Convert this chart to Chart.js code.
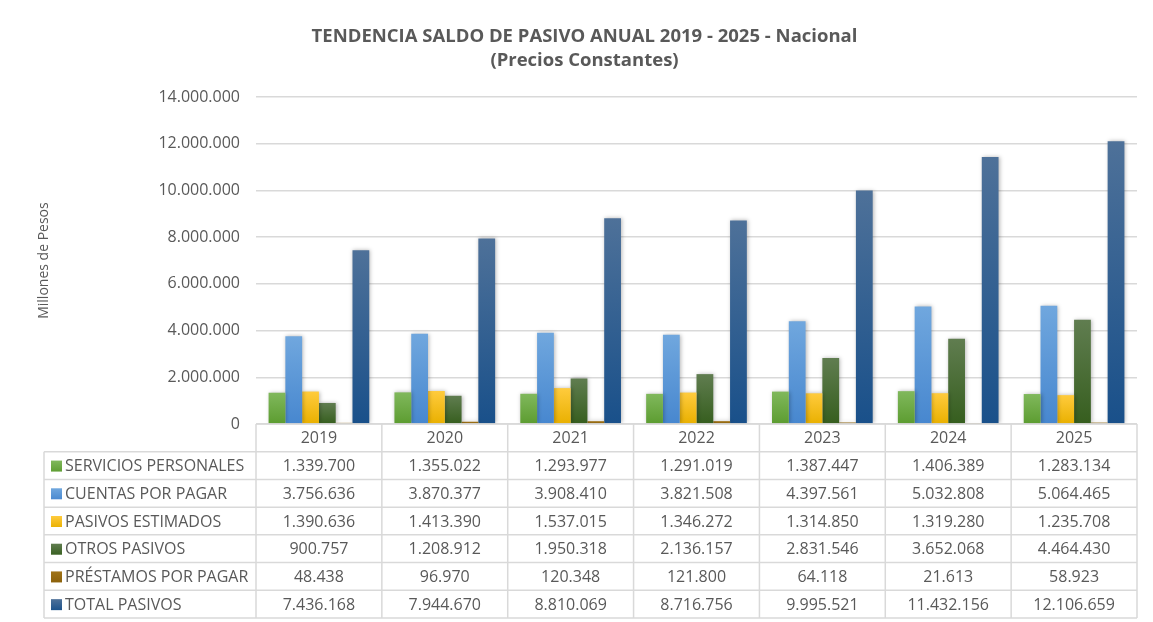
<!DOCTYPE html>
<html>
<head>
<meta charset="utf-8">
<script src="https://cdn.jsdelivr.net/npm/chart.js@4"></script>
<style>
  html, body { margin: 0; padding: 0; background: #fff; }
  #wrap { width: 1153px; height: 622px; position: relative; }
</style>
</head>
<body>
<div id="wrap"><canvas id="pasivoChart" width="1153" height="622"></canvas></div>
<script>
// Data (millones de pesos)
const years = ['2019', '2020', '2021', '2022', '2023', '2024', '2025'];
const serviciosPersonales = [1339700, 1355022, 1293977, 1291019, 1387447, 1406389, 1283134];
const cuentasPorPagar = [3756636, 3870377, 3908410, 3821508, 4397561, 5032808, 5064465];
const pasivosEstimados = [1390636, 1413390, 1537015, 1346272, 1314850, 1319280, 1235708];
const otrosPasivos = [900757, 1208912, 1950318, 2136157, 2831546, 3652068, 4464430];
const prestamosPorPagar = [48438, 96970, 120348, 121800, 64118, 21613, 58923];
const totalPasivos = [7436168, 7944670, 8810069, 8716756, 9995521, 11432156, 12106659];

const seriesLabels = ['SERVICIOS PERSONALES', 'CUENTAS POR PAGAR', 'PASIVOS ESTIMADOS',
  'OTROS PASIVOS', 'PRÉSTAMOS POR PAGAR', 'TOTAL PASIVOS'];
const seriesValues = [serviciosPersonales, cuentasPorPagar, pasivosEstimados,
  otrosPasivos, prestamosPorPagar, totalPasivos];

// top / bottom gradient colours, Excel-like
const seriesColors = [
  ['#80b85c', '#5c9c30'],
  ['#70a7de', '#4787cf'],
  ['#ffcb3d', '#e9b000'],
  ['#607d50', '#365e1e'],
  ['#a07318', '#8a600a'],
  ['#4e7199', '#19508a']
];

const TEXT = '#595959';
const GRID = '#d9d9d9';
const FONT = '"Open Sans", Roboto, sans-serif';

// 1.339.700 style
function fmt(n) {
  return String(Math.round(n)).replace(/\B(?=(\d{3})+(?!\d))/g, '.');
}

function barGradient(top, bottom) {
  return c => {
    const chart = c.chart;
    if (!chart.chartArea || !c.parsed) return bottom;
    const y0 = chart.scales.y.getPixelForValue(0);
    const y1 = chart.scales.y.getPixelForValue(c.parsed.y);
    if (Math.abs(y0 - y1) < 2) return bottom;
    const g = chart.ctx.createLinearGradient(0, y1, 0, y0);
    g.addColorStop(0, top);
    g.addColorStop(1, bottom);
    return g;
  };
}

// soft shadow behind bars
const barShadow = {
  id: 'barShadow',
  beforeDatasetsDraw(chart) {
    const ctx = chart.ctx;
    ctx.save();
    ctx.shadowColor = 'rgba(0,0,0,0.28)';
    ctx.shadowBlur = 4;
    ctx.shadowOffsetX = 1;
    ctx.shadowOffsetY = 0;
  },
  afterDatasetsDraw(chart) {
    chart.ctx.restore();
  }
};

// Data table under the plot, aligned with the category scale
const dataTable = {
  id: 'dataTable',
  afterDraw(chart) {
    const ctx = chart.ctx;
    const x = chart.scales.x;
    const area = chart.chartArea;
    const top = area.bottom;
    const rowH = (618 - top) / 7;
    const legendLeft = 44;
    const n = years.length;
    const colW = (area.right - area.left) / n;

    ctx.save();
    ctx.strokeStyle = GRID;
    ctx.lineWidth = 1.5;
    ctx.beginPath();
    // header row
    ctx.moveTo(area.left, top);
    ctx.lineTo(area.right, top);
    for (let r = 1; r <= 7; r++) {
      const y = top + r * rowH;
      ctx.moveTo(legendLeft, y);
      ctx.lineTo(area.right, y);
    }
    for (let i = 0; i <= n; i++) {
      const cx = area.left + i * colW;
      ctx.moveTo(cx, top);
      ctx.lineTo(cx, top + 7 * rowH);
    }
    ctx.moveTo(legendLeft, top + rowH);
    ctx.lineTo(legendLeft, top + 7 * rowH);
    ctx.stroke();

    ctx.font = '16px ' + FONT;
    ctx.fillStyle = TEXT;
    ctx.textBaseline = 'middle';
    ctx.textAlign = 'center';
    years.forEach((yr, i) => {
      ctx.fillText(yr, x.getPixelForTick(i), top + rowH / 2 + 1);
    });

    seriesLabels.forEach((label, r) => {
      const cy = top + (r + 1.5) * rowH + 1;
      const g = ctx.createLinearGradient(0, cy - 6, 0, cy + 6);
      g.addColorStop(0, seriesColors[r][0]);
      g.addColorStop(1, seriesColors[r][1]);
      ctx.fillStyle = g;
      ctx.fillRect(51, cy - 6, 11, 11);
      ctx.fillStyle = TEXT;
      ctx.textAlign = 'left';
      ctx.fillText(label, 65, cy);
      ctx.textAlign = 'center';
      seriesValues[r].forEach((v, i) => {
        ctx.fillText(fmt(v), x.getPixelForTick(i), cy);
      });
    });
    ctx.restore();
  }
};

const ctx = document.getElementById('pasivoChart').getContext('2d');

new Chart(ctx, {
  type: 'bar',
  data: {
    labels: years,
    datasets: seriesLabels.map((label, i) => ({
      label: label,
      data: seriesValues[i],
      backgroundColor: barGradient(seriesColors[i][0], seriesColors[i][1]),
      borderWidth: 0,
      categoryPercentage: 0.8,
      barPercentage: 1.0
    }))
  },
  options: {
    responsive: false,
    animation: false,
    layout: { padding: { top: 25, left: 32, right: 16, bottom: 198 } },
    plugins: {
      legend: { display: false },
      tooltip: { enabled: false },
      title: {
        display: true,
        text: ['TENDENCIA SALDO DE PASIVO ANUAL 2019 - 2025 - Nacional', '(Precios Constantes)'],
        color: TEXT,
        font: { family: FONT, size: 18.5, weight: 'bold', lineHeight: 1.3 },
        padding: { top: 0, bottom: 24 }
      }
    },
    scales: {
      x: {
        display: false,
        grid: { display: false }
      },
      y: {
        min: 0,
        max: 14000000,
        border: { display: false },
        grid: { color: GRID, lineWidth: 1.5, drawTicks: false },
        ticks: {
          stepSize: 2000000,
          padding: 16,
          color: TEXT,
          font: { family: FONT, size: 16 },
          callback: v => fmt(v)
        },
        title: {
          display: true,
          text: 'Millones de Pesos',
          color: TEXT,
          font: { family: FONT, size: 14 },
          padding: { top: 4, bottom: 0 }
        },
        afterFit: scale => { scale.width = 224; }
      }
    }
  },
  plugins: [barShadow, dataTable]
});
</script>
</body>
</html>
